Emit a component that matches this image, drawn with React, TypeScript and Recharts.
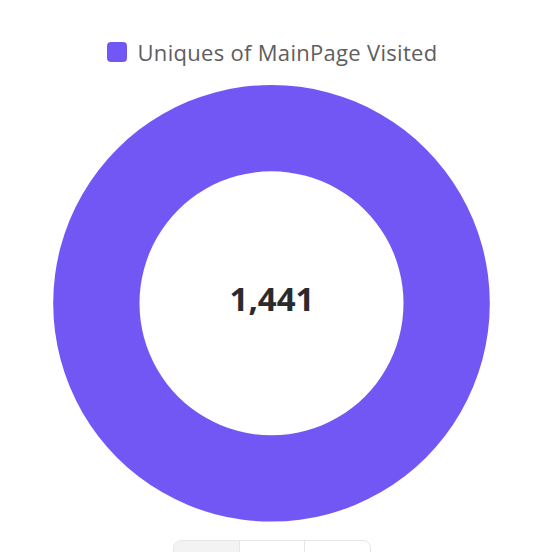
import { PieChart, Pie, Cell } from 'recharts';

const seriesNames = ['Uniques of MainPage Visited'];
const seriesValues = [1441];
const seriesColors = ['#7357F5'];

const pieData = seriesNames.map((name, i) => ({ name, value: seriesValues[i], color: seriesColors[i] }));
const total = seriesValues.reduce((s, v) => s + v, 0);

const font = '"Open Sans", "Noto Sans", sans-serif';

export default function App() {
  return (
    <div style={{ position: 'absolute', left: 0, top: 0, width: 546, height: 552, overflow: 'hidden', background: '#fff', fontFamily: font }}>
      <div style={{ position: 'absolute', top: 37, left: 0, width: 544, display: 'flex', justifyContent: 'center', alignItems: 'center' }}>
        {pieData.map((d) => (
          <div key={d.name} style={{ display: 'flex', alignItems: 'center' }}>
            <span style={{ width: 20, height: 20, borderRadius: 4, background: d.color, display: 'inline-block', marginRight: 11 }} />
            <span style={{ fontSize: 22, color: '#5e5e5e', letterSpacing: 0.3 }}>{d.name}</span>
          </div>
        ))}
      </div>
      <PieChart width={546} height={552} margin={{ top: 0, right: 0, bottom: 0, left: 0 }}>
        <Pie
          data={pieData}
          dataKey="value"
          cx={271.5}
          cy={303.3}
          innerRadius={132}
          outerRadius={218.3}
          startAngle={90}
          endAngle={-270}
          stroke="none"
          isAnimationActive={false}
        >
          {pieData.map((entry, index) => (
            <Cell key={`cell-${index}`} fill={entry.color} />
          ))}
        </Pie>
      </PieChart>
      <div style={{ position: 'absolute', left: 172, top: 281, width: 200, height: 36, textAlign: 'center', lineHeight: '36px', fontSize: 33, fontWeight: 700, color: '#2b2b2e' }}>
        {total.toLocaleString('en-US')}
      </div>
      <div style={{ position: 'absolute', left: 173, top: 540, width: 198, height: 30, border: '1px solid #e6e6e6', borderRadius: 8, display: 'flex', overflow: 'hidden', boxSizing: 'border-box' }}>
        <div style={{ flex: 1, background: '#f3f3f3', borderRight: '1px solid #e6e6e6' }} />
        <div style={{ flex: 1, borderRight: '1px solid #e6e6e6' }} />
        <div style={{ flex: 1 }} />
      </div>
    </div>
  );
}
